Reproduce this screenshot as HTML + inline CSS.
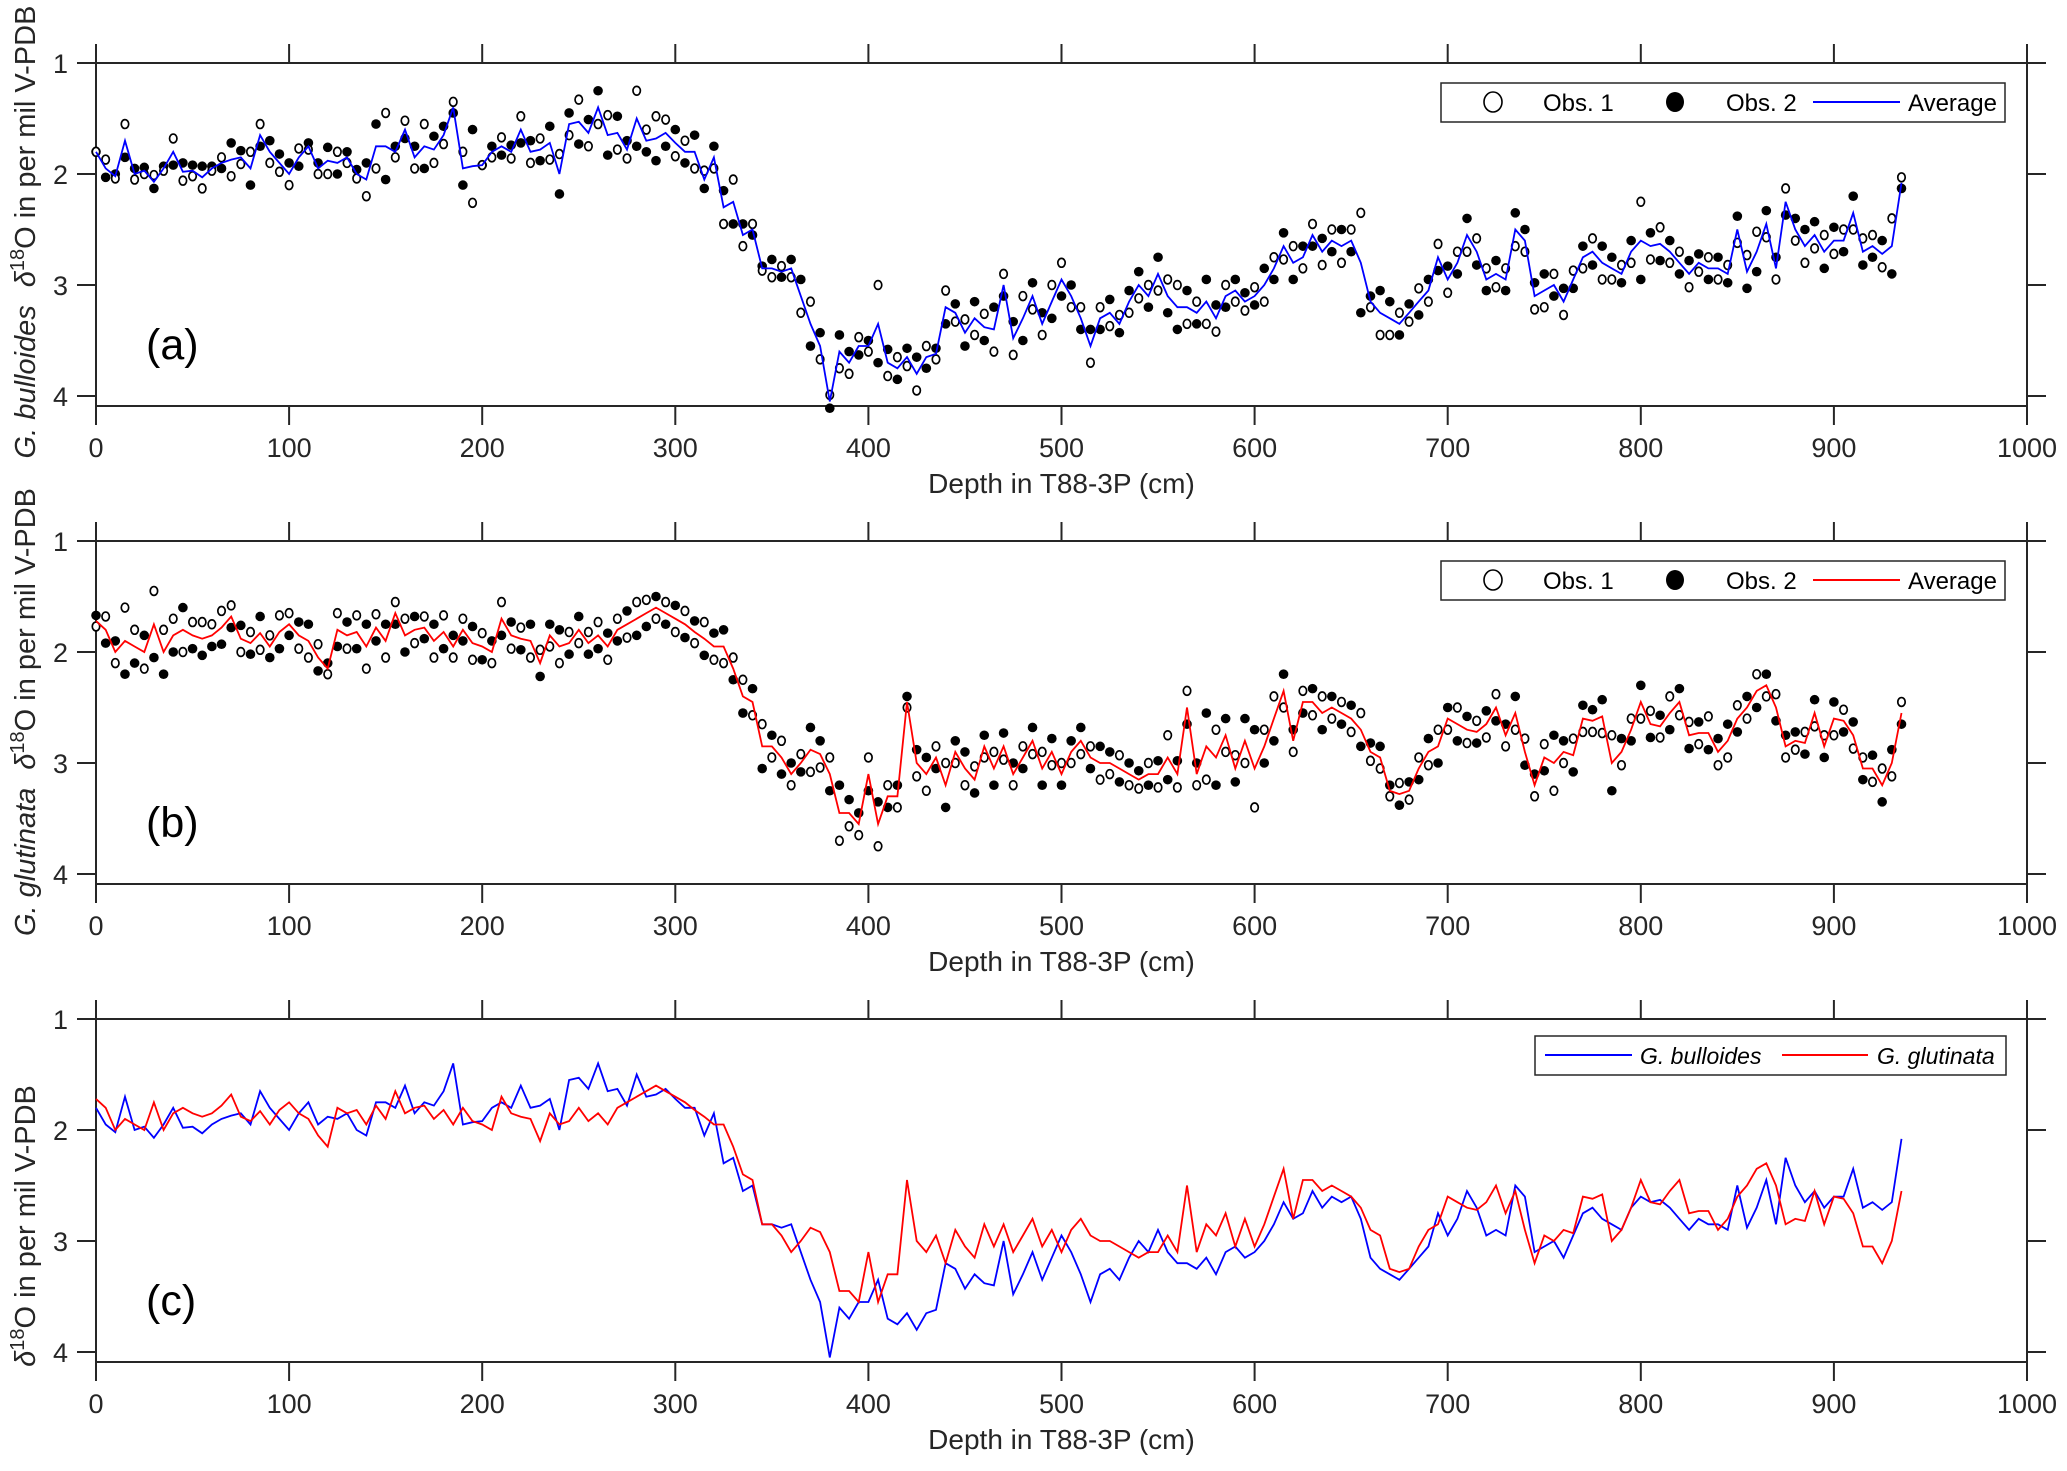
<!DOCTYPE html>
<html><head><meta charset="utf-8"><style>
html,body{margin:0;padding:0;background:#fff;}
svg{display:block;font-family:"Liberation Sans",Arial,sans-serif;}
</style></head><body>
<svg id="chart" width="2067" height="1471" viewBox="0 0 2067 1471" xmlns="http://www.w3.org/2000/svg"></svg>
<script>
const depthStep = 5;
const bullAvg = [1.8,1.95,2.02,1.7,2.0,1.97,2.07,1.95,1.8,1.98,1.97,2.03,1.95,1.9,1.87,1.85,1.95,1.65,1.8,1.9,
2.0,1.85,1.75,1.95,1.88,1.9,1.85,2.0,2.05,1.75,1.75,1.8,1.6,1.85,1.75,1.78,1.65,1.4,1.95,1.93,
1.92,1.8,1.75,1.8,1.6,1.8,1.78,1.72,2.0,1.55,1.53,1.63,1.4,1.65,1.63,1.78,1.5,1.7,1.68,1.63,
1.72,1.8,1.8,2.05,1.85,2.3,2.25,2.55,2.5,2.85,2.85,2.88,2.85,3.1,3.35,3.55,4.05,3.6,3.7,3.55,
3.55,3.35,3.7,3.75,3.65,3.8,3.65,3.62,3.2,3.25,3.43,3.3,3.38,3.4,3.0,3.48,3.3,3.1,3.35,3.15,
2.95,3.1,3.3,3.55,3.3,3.25,3.35,3.15,3.0,3.1,2.9,3.1,3.2,3.2,3.25,3.15,3.3,3.1,3.05,3.15,
3.1,3.0,2.85,2.65,2.8,2.75,2.55,2.7,2.6,2.65,2.6,2.8,3.15,3.25,3.3,3.35,3.25,3.15,3.05,2.75,
2.95,2.8,2.55,2.7,2.95,2.9,2.95,2.5,2.6,3.1,3.05,3.0,3.15,2.95,2.75,2.7,2.8,2.85,2.9,2.7,
2.6,2.65,2.63,2.7,2.8,2.9,2.8,2.85,2.85,2.9,2.5,2.88,2.7,2.45,2.85,2.25,2.5,2.65,2.55,2.7,
2.6,2.6,2.35,2.7,2.65,2.72,2.65,2.08];
const bullDev = [0,-.08,.02,-.15,.05,.03,-.06,.02,-.12,.08,.05,.1,.02,-.05,.15,.06,-.15,-.1,.1,.08,
.1,-.08,.03,.05,.12,-.1,.05,.04,.15,.2,-.3,.05,-.08,.1,-.2,.12,.08,-.05,-.15,.33,
0,.05,-.08,.06,-.12,.1,-.1,.15,-.18,.1,-.2,.12,.15,-.18,.15,.08,-.25,-.1,-.2,-.12,
.12,-.1,.15,-.08,.1,.15,-.2,.1,-.05,.02,.08,-.05,.08,.15,-.2,.12,-.06,.15,.1,-.08,
.05,-.35,.12,-.1,.08,.15,-.1,.05,-.15,.08,-.12,.15,-.12,.2,-.1,.15,-.2,.12,.1,-.15,
-.15,.1,-.1,.15,-.1,.12,-.08,.1,.12,-.1,.15,-.15,-.2,.15,-.1,.2,.12,-.1,.1,.08,
-.08,.15,-.1,.12,-.15,.1,-.1,.12,-.1,.15,-.1,-.45,.05,.2,.15,-.1,.08,-.12,.1,-.12,
.12,-.1,.15,-.12,-.1,.12,-.1,.15,.1,.12,.15,-.1,.12,-.08,.1,-.12,.15,.1,-.08,.1,
-.35,.12,-.15,.1,-.1,.12,.08,-.1,.1,-.08,.12,-.15,-.18,.12,.1,-.12,.1,.15,.12,-.15,
.12,-.1,.15,-.12,-.1,.12,-.25,-.05];
const glutAvg = [1.72,1.8,2.0,1.9,1.95,2.0,1.75,2.0,1.85,1.8,1.85,1.88,1.85,1.78,1.68,1.88,1.92,1.83,1.95,1.82,
1.75,1.85,1.9,2.05,2.15,1.8,1.85,1.82,1.95,1.78,1.9,1.65,1.85,1.8,1.78,1.9,1.82,1.95,1.8,1.92,
1.95,2.0,1.7,1.85,1.88,1.9,2.1,1.85,1.95,1.92,1.8,1.92,1.85,1.95,1.8,1.75,1.7,1.65,1.6,1.65,
1.7,1.75,1.82,1.88,1.95,1.95,2.15,2.4,2.45,2.85,2.85,2.95,3.1,3.0,2.88,2.92,3.1,3.45,3.45,3.55,
3.1,3.55,3.3,3.3,2.45,3.0,3.1,2.95,3.2,2.9,3.05,3.15,2.85,3.05,2.85,3.1,2.95,2.8,3.05,2.9,
3.1,2.9,2.8,2.95,3.0,3.0,3.05,3.1,3.15,3.1,3.1,2.95,3.1,2.5,3.1,2.85,2.95,2.75,3.05,2.8,
3.05,2.85,2.6,2.35,2.8,2.45,2.45,2.55,2.5,2.55,2.6,2.7,2.9,2.95,3.25,3.28,3.25,3.05,2.9,2.85,
2.6,2.65,2.7,2.72,2.65,2.5,2.75,2.55,2.9,3.2,2.95,3.0,2.9,2.93,2.6,2.62,2.58,3.0,2.9,2.7,
2.45,2.65,2.67,2.55,2.45,2.75,2.73,2.73,2.9,2.8,2.6,2.5,2.35,2.3,2.5,2.85,2.8,2.82,2.55,2.85,
2.6,2.62,2.75,3.05,3.05,3.2,3.0,2.55];
const glutDev = [.05,-.12,.1,-.3,-.15,.15,-.3,-.2,-.15,.2,-.12,-.15,-.1,-.15,-.1,.12,-.1,.15,-.1,-.15,
-.1,.12,.15,-.12,.05,-.15,.12,-.15,.2,-.12,.15,-.1,-.15,.12,-.1,.15,-.15,.1,-.1,.15,
-.12,.1,-.15,.12,-.1,.15,-.12,.1,.15,-.1,.12,-.1,-.12,.12,-.1,.12,-.15,-.12,.1,-.1,
.12,-.12,.1,-.15,.12,.15,-.1,-.15,.12,-.2,.1,-.15,.1,-.08,.2,.12,-.15,.25,.12,.1,
-.15,.2,-.1,.1,.05,.12,.15,-.1,-.2,.1,.15,-.12,.1,-.15,.12,.1,-.1,.12,-.15,.12,
-.1,.1,.12,-.1,.15,.1,-.12,.1,.08,-.1,.12,-.2,.12,-.15,.1,.3,-.25,.15,-.12,.2,
.35,-.15,-.2,.15,.1,-.1,.12,-.15,.1,-.1,.12,-.15,.08,.1,.05,-.1,.08,-.1,.12,-.15,
.1,-.15,.12,-.1,.12,-.12,.1,.15,-.12,.1,-.12,.25,.1,-.15,.12,.1,.15,-.25,.12,-.1,
.15,-.12,.1,-.15,.12,-.12,.1,-.15,.12,.15,-.12,.1,-.15,.1,-.12,.1,.08,-.1,.12,-.1,
.15,-.1,.12,-.1,.12,-.15,.12,-.1];
const xTicks = [0,100,200,300,400,500,600,700,800,900,1000];
const yTicks = [1,2,3,4];

const NS = "http://www.w3.org/2000/svg";
const svg = document.getElementById('chart');
const L = 96, R = 2027, UNIT = 111, PH = 343, TL = 19;
const tops = [63, 541, 1019];
function xs(d){ return L + (R - L) * d / 1000; }
function ys(p, v){ return tops[p] + (v - 1) * UNIT; }
function mk(tag, attrs, parent){
  const e = document.createElementNS(NS, tag);
  for (const k in attrs) e.setAttribute(k, attrs[k]);
  (parent || svg).appendChild(e);
  return e;
}

function drawAxes(p, letter, labelParts){
  const g = mk('g', {});
  
  
  const T = tops[p], B = T + PH;
  const box = mk('rect', {x:L, y:T, width:R-L, height:PH, fill:'none', stroke:'#262626', 'stroke-width':2}, g);
  
  
  xTicks.forEach(t => {
    const x = xs(t);
    mk('line', {x1:x, y1:T, x2:x, y2:T-TL, stroke:'#262626', 'stroke-width':2}, g);
    mk('line', {x1:x, y1:B, x2:x, y2:B+TL, stroke:'#262626', 'stroke-width':2}, g);
    const tx = mk('text', {x:x, y:B+51, 'font-size':27, 'text-anchor':'middle', fill:'#262626'}, g);
    tx.textContent = t;
    
    
  });
  yTicks.forEach(t => {
    const y = ys(p, t);
    mk('line', {x1:L, y1:y, x2:L-TL, y2:y, stroke:'#262626', 'stroke-width':2}, g);
    mk('line', {x1:R, y1:y, x2:R+TL, y2:y, stroke:'#262626', 'stroke-width':2}, g);
    const ty = mk('text', {x:68, y:y+10, 'font-size':27, 'text-anchor':'end', fill:'#262626'}, g);
    ty.textContent = t;
    
    
  });
  const xt = mk('text', {x:(L+R)/2, y:B+87, 'font-size':28, 'text-anchor':'middle', fill:'#262626'}, g);
  xt.textContent = 'Depth in T88-3P (cm)';
  
  
  const pl = mk('text', {x:146, y:T+296, 'font-size':43, fill:'#000'}, g);
  pl.textContent = '(' + letter + ')';
  
  
  const cy = labelParts.cy;
  const yl = mk('text', {transform:'translate(35,' + cy + ') rotate(-90)', 'font-size':29, 'text-anchor':'middle', fill:'#262626'}, g);
  
  
  if (labelParts.species){
    const s = mk('tspan', {'font-style':'italic'}, yl); s.textContent = labelParts.species;
  }
  const d = mk('tspan', {'font-style':'italic', dx: labelParts.species ? 18 : 0}, yl); d.textContent = 'δ';
  const sup = mk('tspan', {dy:-11, 'font-size':20}, yl); sup.textContent = '18';
  const rest = mk('tspan', {dy:11}, yl); rest.textContent = 'O in per mil V-PDB';
  return g;
}
function linePath(p, arr){
  return arr.map((v,i) => (i?'L':'M') + xs(i*depthStep).toFixed(1) + ' ' + ys(p,v).toFixed(1)).join(' ');
}
function drawPoints(p, avg, dev, g){
  avg.forEach((v,i) => {
    const x = xs(i*depthStep);
    const o1 = v + dev[i], o2 = v - dev[i];
    const c2 = mk('circle', {cx:x, cy:ys(p,o2), r:4.8, fill:'#000'}, g);
    
    
    const c1 = mk('ellipse', {cx:x, cy:ys(p,o1), rx:3.7, ry:4.4, fill:'#fff', stroke:'#000', 'stroke-width':1.7}, g);
    
    
  });
}
function obsLegend(p, color){
  const T = tops[p];
  const g = mk('g', {});
  
  
  mk('rect', {x:1441, y:T+20, width:564, height:39, fill:'#fff', stroke:'#262626', 'stroke-width':1.5}, g);
  const cy = T+39;
  mk('ellipse', {cx:1493, cy:cy, rx:9, ry:10, fill:'#fff', stroke:'#000', 'stroke-width':1.6}, g);
  const t1 = mk('text', {x:1543, y:cy+9, 'font-size':24, fill:'#000'}, g); t1.textContent = 'Obs. 1';
  
  
  mk('ellipse', {cx:1675, cy:cy, rx:9, ry:10, fill:'#000'}, g);
  const t2 = mk('text', {x:1726, y:cy+9, 'font-size':24, fill:'#000'}, g); t2.textContent = 'Obs. 2';
  
  
  mk('line', {x1:1813, y1:cy, x2:1900, y2:cy, stroke:color, 'stroke-width':2}, g);
  const t3 = mk('text', {x:1908, y:cy+9, 'font-size':24, fill:'#000'}, g); t3.textContent = 'Average';
  
  
}

// Panel a
const ga = drawAxes(0, 'a', {species:'G. bulloides', cy:232});
drawPoints(0, bullAvg, bullDev, ga);
const la = mk('path', {d:linePath(0, bullAvg), fill:'none', stroke:'#0000ff', 'stroke-width':1.8}, ga);


obsLegend(0, '#0000ff');

// Panel b
const gb = drawAxes(1, 'b', {species:'G. glutinata', cy:712});
drawPoints(1, glutAvg, glutDev, gb);
const lb = mk('path', {d:linePath(1, glutAvg), fill:'none', stroke:'#ff0000', 'stroke-width':1.8}, gb);


obsLegend(1, '#ff0000');

// Panel c
const gc = drawAxes(2, 'c', {species:null, cy:1226});
const lc1 = mk('path', {d:linePath(2, bullAvg), fill:'none', stroke:'#0000ff', 'stroke-width':1.8}, gc);


const lc2 = mk('path', {d:linePath(2, glutAvg), fill:'none', stroke:'#ff0000', 'stroke-width':1.8}, gc);


(function(){
  const T = tops[2];
  const g = mk('g', {});
  
  
  mk('rect', {x:1535, y:T+17, width:471, height:39, fill:'#fff', stroke:'#262626', 'stroke-width':1.5}, g);
  const cy = T+36;
  mk('line', {x1:1545, y1:cy, x2:1632, y2:cy, stroke:'#0000ff', 'stroke-width':2}, g);
  const t1 = mk('text', {x:1640, y:cy+9, 'font-size':23, 'font-style':'italic', fill:'#000'}, g); t1.textContent = 'G. bulloides';
  
  
  mk('line', {x1:1782, y1:cy, x2:1868, y2:cy, stroke:'#ff0000', 'stroke-width':2}, g);
  const t2 = mk('text', {x:1877, y:cy+9, 'font-size':23, 'font-style':'italic', fill:'#000'}, g); t2.textContent = 'G. glutinata';
  
  
})();
</script>
</body></html>
